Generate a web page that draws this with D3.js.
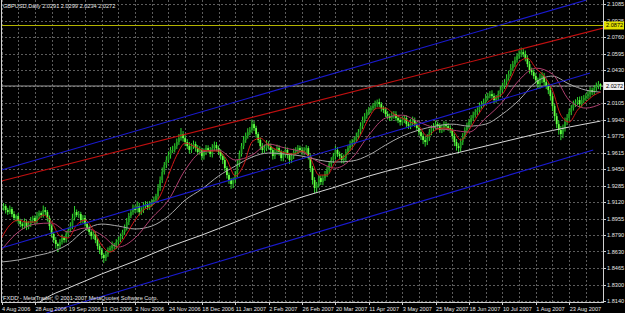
<!DOCTYPE html>
<html><head><meta charset="utf-8">
<script src="https://cdn.jsdelivr.net/npm/d3@7"></script>
<style>html,body{margin:0;padding:0;background:#000;}svg{display:block;}</style>
</head><body>
<svg id="chart" width="625" height="313"></svg>
<script>
// ---------- DATA ----------
const title = "GBPUSD,Daily  2.0291 2.0299 2.0234 2.0272";
const copyright = "FXDD - MetaTrader, \u00a9 2001-2007 MetaQuotes Software Corp.";
const dateLabels = ["4 Aug 2006","28 Aug 2006","19 Sep 2006","11 Oct 2006","2 Nov 2006","24 Nov 2006","18 Dec 2006","11 Jan 2007","2 Feb 2007","26 Feb 2007","20 Mar 2007","11 Apr 2007","3 May 2007","25 May 2007","18 Jun 2007","10 Jul 2007","1 Aug 2007","23 Aug 2007"];
const priceLabels = ["1.8140","1.8300","1.8465","1.8630","1.8790","1.8955","1.9120","1.9285","1.9450","1.9615","1.9775","1.9940","2.0105","2.0270","2.0430","2.0595","2.0760","2.0925","2.1085"];
const priceMin = 1.8140, priceMax = 2.1085;
const firstOpen = 1.9050;
const closes = [
1.9062,1.9082,1.9042,1.9022,1.9052,1.9002,1.8963,1.8983,1.8933,1.8903,
1.8883,1.8923,1.8873,1.8903,1.8943,1.8963,1.8933,1.8983,1.9012,1.8992,
1.9042,1.9022,1.8963,1.8883,1.8804,1.8745,1.8705,1.8685,1.8725,1.8765,
1.8745,1.8804,1.8844,1.8883,1.8963,1.9022,1.8992,1.9002,1.8943,1.8963,
1.8903,1.8864,1.8824,1.8784,1.8804,1.8745,1.8685,1.8646,1.8596,1.8566,
1.8606,1.8646,1.8665,1.8695,1.8685,1.8725,1.8745,1.8784,1.8824,1.8864,
1.8923,1.8983,1.9022,1.9062,1.9042,1.9082,1.9022,1.9042,1.9082,1.9101,
1.9072,1.9101,1.9121,1.9141,1.9181,1.9260,1.9340,1.9419,1.9488,1.9538,
1.9587,1.9637,1.9637,1.9676,1.9716,1.9755,1.9795,1.9755,1.9716,1.9676,
1.9637,1.9676,1.9696,1.9656,1.9617,1.9637,1.9577,1.9617,1.9656,1.9637,
1.9597,1.9656,1.9686,1.9656,1.9617,1.9577,1.9538,1.9458,1.9389,1.9340,
1.9300,1.9340,1.9399,1.9498,1.9597,1.9676,1.9736,1.9775,1.9815,1.9835,
1.9894,1.9855,1.9795,1.9736,1.9676,1.9637,1.9656,1.9696,1.9676,1.9637,
1.9577,1.9617,1.9656,1.9617,1.9557,1.9597,1.9637,1.9587,1.9538,1.9577,
1.9617,1.9637,1.9656,1.9637,1.9617,1.9637,1.9656,1.9577,1.9458,1.9340,
1.9260,1.9300,1.9359,1.9320,1.9359,1.9399,1.9439,1.9498,1.9538,1.9577,
1.9637,1.9597,1.9577,1.9538,1.9557,1.9617,1.9656,1.9696,1.9716,1.9736,
1.9775,1.9815,1.9874,1.9934,1.9973,2.0013,2.0033,2.0053,2.0073,2.0092,
2.0112,2.0092,2.0053,2.0033,1.9993,1.9973,1.9954,1.9983,1.9993,1.9954,
1.9934,1.9914,1.9934,1.9954,1.9894,1.9874,1.9914,1.9934,1.9894,1.9855,
1.9815,1.9775,1.9736,1.9716,1.9755,1.9815,1.9855,1.9874,1.9894,1.9874,
1.9835,1.9855,1.9894,1.9874,1.9855,1.9835,1.9775,1.9716,1.9676,1.9656,
1.9716,1.9775,1.9835,1.9874,1.9914,1.9954,1.9983,2.0013,2.0033,2.0073,
2.0092,2.0112,2.0152,2.0172,2.0191,2.0172,2.0132,2.0152,2.0191,2.0231,
2.0271,2.0310,2.0350,2.0390,2.0449,2.0489,2.0528,2.0568,2.0588,2.0608,
2.0588,2.0548,2.0489,2.0429,2.0409,2.0370,2.0330,2.0291,2.0350,2.0370,
2.0310,2.0271,2.0231,2.0172,2.0073,1.9973,1.9894,1.9835,1.9795,1.9855,
1.9914,1.9954,2.0013,2.0053,2.0092,2.0112,2.0132,2.0092,2.0132,2.0152,
2.0172,2.0191,2.0231,2.0211,2.0251,2.0271,2.0291,2.0272];
// upper / lower shadow lengths in pips (0.0001)
const upperShadow = [
25,30,18,22,35,20,28,15,30,22, 18,35,20,28,30,22,26,40,25,18, 45,30,20,25,18,22,30,15,28,35,
20,30,25,38,42,60,25,30,22,28, 30,20,25,18,30,22,15,25,20,18, 30,25,22,35,20,28,30,25,22,35,
40,30,28,35,25,45,30,28,38,30, 25,30,28,35,22,40,35,45,30,38, 35,30,42,28,35,40,60,30,35,28,
40,30,35,25,30,38,22,35,30,28, 30,40,35,30,25,28,22,30,20,25, 20,25,30,42,35,30,40,35,38,30,
45,30,22,20,25,30,35,40,28,25, 20,30,35,28,22,30,35,25,20,30, 35,28,30,25,32,28,30,20,18,22,
28,20,30,25,28,30,35,30,28,32, 40,30,25,28,35,30,28,35,30,32, 35,30,38,35,30,28,32,25,30,35,
25,35,20,22,28,30,25,35,30,28, 30,25,35,30,28,22,30,35,25,20, 28,25,30,35,40,32,28,30,35,25,
30,35,28,25,30,28,22,25,30,28, 35,30,28,35,32,30,35,30,28,35, 30,35,40,32,30,38,28,30,35,40,
35,30,38,35,40,32,35,30,38,45, 40,35,28,30,25,28,30,25,45,40, 30,35,28,30,25,20,30,35,40,35,
45,40,35,30,35,28,30,35,40,30, 28,32,30,25,30,35,30,8];
const lowerShadow = [
30,25,35,28,20,30,22,35,28,30, 35,25,30,22,28,30,35,25,30,28, 25,30,35,40,35,30,45,60,30,25,
28,25,30,22,30,25,20,28,35,30, 25,30,28,35,30,32,35,40,38,50, 30,28,25,30,35,28,25,22,30,28,
25,30,22,28,30,25,35,28,30,25, 30,28,25,22,30,35,28,30,25,30, 28,35,30,25,30,28,25,35,40,30,
35,30,28,35,30,25,40,35,30,28, 30,35,28,32,30,35,40,30,35,38, 50,40,35,30,28,25,30,28,25,30,
28,30,35,30,38,35,28,30,35,30, 35,30,28,35,30,32,28,35,40,30, 30,28,35,30,28,32,30,35,40,45,
50,40,35,30,32,28,30,35,28,30, 35,30,28,32,35,30,28,30,32,28, 30,28,25,30,28,25,30,28,25,30,
28,30,35,30,28,32,30,28,35,30, 30,35,28,30,32,28,30,35,30,28, 35,38,40,45,30,28,32,30,35,30,
28,30,35,30,28,30,35,40,45,50, 35,30,28,30,25,28,30,25,28,30, 25,28,30,25,22,28,30,25,28,30,
25,28,30,25,22,28,30,25,28,30, 28,32,30,35,30,28,35,40,45,50, 35,30,40,45,50,45,40,45,60,40,
35,30,28,30,25,28,30,35,28,30, 28,30,35,30,28,32,30,38];
// moving averages
const maFastIdx = [0,4,8,12,16,20,24,28,32,36,40,44,48,52,56,60,64,68,72,76,80,84,88,92,96,100,104,108,112,116,120,124,128,132,136,140,144,148,152,156,160,164,168,172,176,180,184,188,192,196,200,204,208,212,216,220,224,228,232,236,240,244,248,252,256,260,264,268,272,276,280,284,287];
const maFast = [1.8765,1.8893,1.8943,1.8923,1.8923,1.8992,1.8923,1.8784,1.8765,1.8893,
1.8943,1.8844,1.8695,1.8626,1.8685,1.8804,1.8943,1.9042,1.9082,1.9181,
1.9389,1.9587,1.9706,1.9676,1.9637,1.9627,1.9627,1.9538,1.9379,1.9488,
1.9716,1.9755,1.9686,1.9637,1.9607,1.9597,1.9627,1.9557,1.9389,1.9389,
1.9518,1.9567,1.9656,1.9785,1.9954,2.0053,2.0053,1.9993,1.9954,1.9914,
1.9874,1.9775,1.9835,1.9855,1.9835,1.9736,1.9835,1.9973,2.0092,2.0152,
2.0191,2.0350,2.0509,2.0548,2.0449,2.0370,2.0231,1.9983,1.9914,2.0033,
2.0112,2.0182,2.0211];
const maSlowIdx = [0,8,16,24,32,40,48,56,64,72,80,88,96,104,112,120,128,136,144,152,160,168,176,184,192,200,208,216,224,232,240,248,256,264,272,280,287];
const maMid = [1.8646,1.8824,1.8903,1.8913,1.8824,1.8864,1.8794,1.8675,1.8765,1.8963,1.9141,1.9439,1.9617,1.9637,1.9538,1.9587,1.9696,1.9656,1.9617,1.9518,1.9458,1.9557,1.9785,1.9954,1.9983,1.9914,1.9855,1.9835,1.9815,1.9954,2.0112,2.0330,2.0449,2.0390,2.0132,2.0053,2.0092];
const maGray = [1.8527,1.8547,1.8586,1.8626,1.8705,1.8844,1.8903,1.8883,1.8854,1.8883,1.8983,1.9141,1.9250,1.9379,1.9478,1.9567,1.9607,1.9597,1.9577,1.9538,1.9518,1.9528,1.9587,1.9686,1.9775,1.9835,1.9874,1.9894,1.9874,1.9894,1.9993,2.0132,2.0310,2.0370,2.0291,2.0231,2.0211];
const maLongIdx = [16,24,32,40,48,64,80,96,112,128,144,160,176,192,208,224,240,256,272,287];
const maLong = [1.8100,1.8200,1.8269,1.8338,1.8408,1.8536,1.8675,1.8794,1.8923,1.9052,1.9171,1.9270,1.9379,1.9468,1.9557,1.9637,1.9716,1.9795,1.9865,1.9924];
// trend / channel lines: [barIndex, price]
const blueUpper = [[0,1.9439],[280,2.1123]];
const blueMiddle = [[0,1.8665],[282,2.0400]];
const blueLower = [[21.5,1.8021],[283.5,1.9637]];
const redLine = [[0,1.9329],[288.3,2.0846]];
const yellowLevel = 2.0872;
const bidLevel = 2.0272;

// ---------- DRAW ----------
const svg = d3.select("#chart");
const W = 625, H = 313, plotL = 1, plotR = 603, plotB = 302;
const x = d3.scaleLinear().domain([0, closes.length - 1]).range([1.5, 600.5]);
const y = d3.scaleLinear().domain([priceMin, priceMax]).range([301, 4]);
const FONT = "Liberation Sans, Arial, sans-serif";

svg.append("rect").attr("width", W).attr("height", H).attr("fill", "#000");
const defs = svg.append("defs");
defs.append("clipPath").attr("id", "plot")
  .append("rect").attr("x", plotL).attr("y", 0).attr("width", plotR - plotL).attr("height", plotB);
defs.append("clipPath").attr("id", "objs")
  .append("rect").attr("x", plotL).attr("y", 0).attr("width", plotR - plotL).attr("height", H);

const g = svg.append("g").attr("clip-path", "url(#plot)");
const go = svg.append("g").attr("clip-path", "url(#objs)");

// grid
const tickStep = (priceMax - priceMin) / (priceLabels.length - 1);
const tickPrices = priceLabels.map((d, k) => priceMin + k * tickStep);
g.selectAll("line.hg").data(tickPrices).enter().append("line")
  .attr("x1", plotL).attr("x2", plotR)
  .attr("y1", d => Math.round(y(d)) + 0.5).attr("y2", d => Math.round(y(d)) + 0.5)
  .attr("stroke", "#5c5c5c").attr("stroke-width", 1).attr("stroke-dasharray", "2,2");
const gridIdx = d3.range(0, closes.length + 8, 8);
g.selectAll("line.vg").data(gridIdx).enter().append("line")
  .attr("x1", d => Math.round(x(d)) + 0.5).attr("x2", d => Math.round(x(d)) + 0.5)
  .attr("y1", 0).attr("y2", plotB)
  .attr("stroke", "#5c5c5c").attr("stroke-width", 1).attr("stroke-dasharray", "2,2");

// level lines
g.append("line").attr("x1", plotL).attr("x2", plotR)
  .attr("y1", y(yellowLevel)).attr("y2", y(yellowLevel)).attr("stroke", "#b4b400").attr("stroke-width", 1.2);
g.append("line").attr("x1", plotL).attr("x2", plotR)
  .attr("y1", y(bidLevel)).attr("y2", y(bidLevel)).attr("stroke", "#9a9a9a").attr("stroke-width", 1);

// trend lines
const tl = d3.line().x(d => x(d[0])).y(d => y(d[1]));
[[blueUpper, "#1a1ad0"], [blueMiddle, "#1a1ad0"], [blueLower, "#1a1ad0"], [redLine, "#c01010"]]
  .forEach(([pts, col]) => go.append("path").attr("d", tl(pts)).attr("fill", "none").attr("stroke", col).attr("stroke-width", 1.1));

// candles
const bars = closes.map((c, i) => {
  const o = i === 0 ? firstOpen : closes[i - 1];
  return { i, o, c, h: Math.max(o, c) + upperShadow[i] / 10000, l: Math.min(o, c) - lowerShadow[i] / 10000 };
});
g.selectAll("line.wick").data(bars).enter().append("line")
  .attr("x1", d => x(d.i)).attr("x2", d => x(d.i))
  .attr("y1", d => y(d.h)).attr("y2", d => y(d.l))
  .attr("stroke", "#2fd82f").attr("stroke-width", 1);
g.selectAll("rect.body").data(bars).enter().append("rect")
  .attr("x", d => x(d.i) - 0.9).attr("width", 1.8)
  .attr("y", d => y(Math.max(d.o, d.c)))
  .attr("height", d => Math.max(1, Math.abs(y(d.o) - y(d.c))))
  .attr("fill", d => d.c >= d.o ? "#1f9a1f" : "#66ff44");

// moving averages
const ml = d3.line().curve(d3.curveMonotoneX).x(d => x(d[0])).y(d => y(d[1]));
const zip = (ix, v) => ix.map((k, j) => [k, v[j]]);
g.append("path").attr("d", ml(zip(maLongIdx, maLong))).attr("fill", "none").attr("stroke", "#d8d8d8").attr("stroke-width", 1);
g.append("path").attr("d", ml(zip(maSlowIdx, maGray))).attr("fill", "none").attr("stroke", "#a8a8a8").attr("stroke-width", 1);
g.append("path").attr("d", ml(zip(maSlowIdx, maMid))).attr("fill", "none").attr("stroke", "#b04070").attr("stroke-width", 1);
g.append("path").attr("d", ml(zip(maFastIdx, maFast))).attr("fill", "none").attr("stroke", "#d01818").attr("stroke-width", 1);

// frame
svg.append("line").attr("x1", plotL + 0.5).attr("x2", plotL + 0.5).attr("y1", 0).attr("y2", plotB).attr("stroke", "#d0d0d0");
svg.append("line").attr("x1", plotR + 0.5).attr("x2", plotR + 0.5).attr("y1", 0).attr("y2", plotB + 0.5).attr("stroke", "#d0d0d0");
svg.append("line").attr("x1", plotL).attr("x2", plotR + 1).attr("y1", plotB + 0.5).attr("y2", plotB + 0.5).attr("stroke", "#d0d0d0");

// price axis
const pa = svg.append("g");
pa.selectAll("line").data(tickPrices).enter().append("line")
  .attr("x1", plotR).attr("x2", plotR + 3)
  .attr("y1", d => Math.round(y(d)) + 0.5).attr("y2", d => Math.round(y(d)) + 0.5).attr("stroke", "#d0d0d0");
pa.selectAll("text").data(priceLabels).enter().append("text")
  .attr("x", 607).attr("y", (d, k) => y(tickPrices[k]) + 2)
  .attr("fill", "#e6e6e6").attr("font-family", FONT).attr("font-size", 5.6).text(d => d);

function priceBox(v, bg) {
  const yy = y(v);
  svg.append("rect").attr("x", 604).attr("y", yy - 4).attr("width", 20).attr("height", 8).attr("fill", bg);
  svg.append("text").attr("x", 606).attr("y", yy + 2).attr("fill", "#000")
    .attr("font-family", FONT).attr("font-size", 5.6).text(v.toFixed(4));
}
priceBox(yellowLevel, "#e0e000");
priceBox(bidLevel, "#f0f0f0");

// time axis
const dateIdx = dateLabels.map((d, k) => k * 16);
svg.selectAll("line.dt").data(dateIdx).enter().append("line")
  .attr("x1", d => Math.round(x(d)) + 0.5).attr("x2", d => Math.round(x(d)) + 0.5)
  .attr("y1", plotB).attr("y2", plotB + 3).attr("stroke", "#d0d0d0");
svg.selectAll("text.dt").data(dateLabels).enter().append("text")
  .attr("x", (d, k) => x(dateIdx[k]) + 0.5).attr("y", 311)
  .attr("fill", "#e6e6e6").attr("font-family", FONT).attr("font-size", 5.6).text(d => d);

// texts
svg.append("text").attr("x", 3).attr("y", 8).attr("fill", "#e6e6e6")
  .attr("font-family", FONT).attr("font-size", 5.6).text(title);
svg.append("text").attr("x", 3).attr("y", 300).attr("fill", "#e6e6e6")
  .attr("font-family", FONT).attr("font-size", 5.6).text(copyright);
</script>
</body></html>
